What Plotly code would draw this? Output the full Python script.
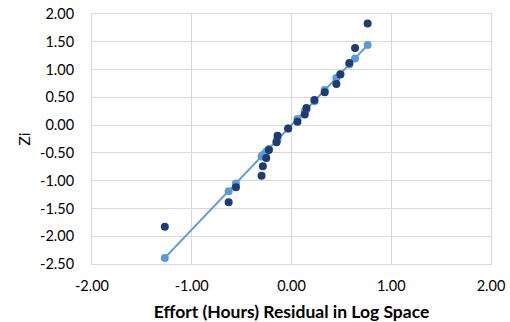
import plotly.graph_objects as go

# Sorted residuals of log-effort (hours) and their normal scores
residuals = [-1.27, -0.63, -0.557, -0.30, -0.287, -0.253, -0.227, -0.15, -0.14, -0.033,
             0.06, 0.133, 0.15, 0.23, 0.333, 0.45, 0.49, 0.58, 0.637, 0.763]
zi_observed = [-1.83, -1.39, -1.12, -0.91, -0.74, -0.59, -0.45, -0.31, -0.19, -0.06,
               0.06, 0.19, 0.31, 0.45, 0.59, 0.74, 0.91, 1.12, 1.39, 1.83]
# Expected normal line through the residuals
zi_expected = [-2.39, -1.19, -1.05, -0.565, -0.54, -0.48, -0.43, -0.28, -0.26, -0.06,
               0.11, 0.25, 0.28, 0.43, 0.63, 0.85, 0.92, 1.09, 1.20, 1.44]

x_ticks = [-2.0, -1.0, 0.0, 1.0, 2.0]
y_ticks = [2.0, 1.5, 1.0, 0.5, 0.0, -0.5, -1.0, -1.5, -2.0, -2.5]

LIGHT = "#5B9BD5"
DARK = "#1F3B70"
GRID = "#D9D9D9"
FONT = "Lato"

fig = go.Figure()
fig.add_trace(go.Scatter(
    x=residuals, y=zi_expected, mode="lines+markers",
    line=dict(color=LIGHT, width=2),
    marker=dict(color=LIGHT, size=8),
    showlegend=False,
))
fig.add_trace(go.Scatter(
    x=residuals, y=zi_observed, mode="markers",
    marker=dict(color=DARK, size=8),
    showlegend=False,
))

fig.update_layout(
    width=510, height=322,
    margin=dict(l=92, r=19, t=14, b=58),
    paper_bgcolor="white", plot_bgcolor="white",
    font=dict(family=FONT, size=14.5, color="#000000"),
    xaxis=dict(
        range=[-2, 2], tickvals=x_ticks, ticktext=[f"{v:.2f}" for v in x_ticks],
        showgrid=True, gridcolor=GRID, gridwidth=1,
        showline=True, linecolor=GRID, linewidth=1, mirror=True,
        zeroline=False, ticks="", ticklabelstandoff=9, automargin=False,
        title=dict(text="<b>Effort (Hours) Residual in Log Space</b>",
                   font=dict(family=FONT, size=17.5), standoff=12),
    ),
    yaxis=dict(
        range=[-2.5, 2.0], tickvals=y_ticks, ticktext=[f"{v:.2f}" for v in y_ticks],
        showgrid=True, gridcolor=GRID, gridwidth=1,
        showline=True, linecolor=GRID, linewidth=1, mirror=True,
        zeroline=False, ticks="", ticklabelstandoff=14, automargin=False,
        title=dict(text="Zi", font=dict(family=FONT, size=16), standoff=5),
    ),
)

fig.write_html("out.html")
